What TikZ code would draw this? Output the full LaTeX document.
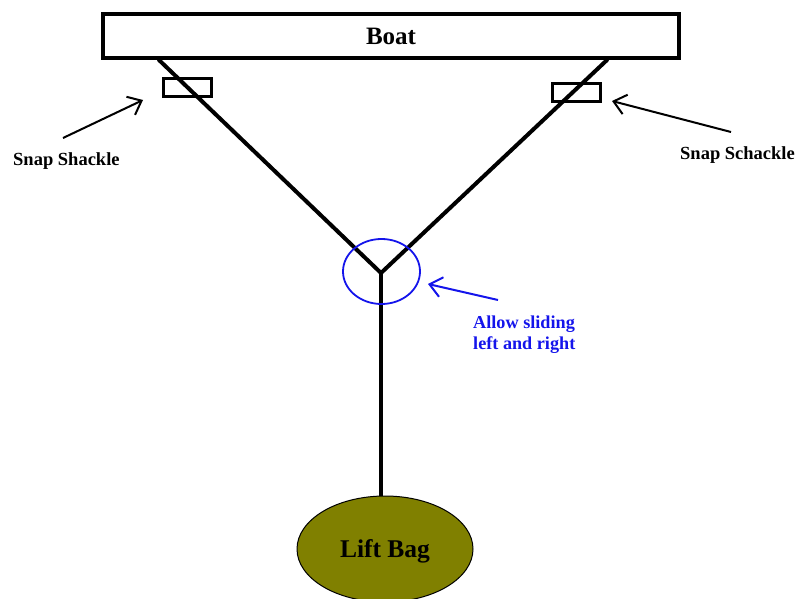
\documentclass[tikz,border=0pt]{standalone}
\usepackage{fontspec}
\setmainfont{Liberation Serif}
\usetikzlibrary{arrows.meta,shapes.geometric}
\definecolor{bagolive}{RGB}{128,128,0}
\definecolor{markblue}{RGB}{20,20,235}
\tikzset{
  rope/.style={line width=4pt, line cap=round},
  shacklebox/.style={draw, line width=3pt, minimum width=48pt, minimum height=18pt, inner sep=0pt},
  pointer/.style={line width=2pt, -{Straight Barb[length=12pt,width=20pt,line width=2pt]}},
  lbl/.style={font=\bfseries\fontsize{18.5}{21}\selectfont, inner sep=0pt}
}
\begin{document}
\begin{tikzpicture}[x=1pt,y=-1pt]
\useasboundingbox (0,0) rectangle (796,599);
% boat
\node[draw, line width=4pt, minimum width=576pt, minimum height=44pt, inner sep=0pt,
      font=\bfseries\fontsize{25}{28}\selectfont] (boat) at (391,36) {Boat};
% rope
\coordinate (pl) at (159,60);
\coordinate (pr) at (607,60);
\coordinate (yj) at (381,273);
\node[ellipse, draw, line width=1pt, fill=bagolive, minimum width=176pt, minimum height=106pt,
      inner sep=0pt, text depth=0pt, font=\bfseries\fontsize{25.5}{28}\selectfont] (bag) at (385,549) {Lift Bag};
\draw[rope] (pl) -- (yj) -- (pr);
\draw[rope, line cap=butt] (yj) -- (yj |- bag.north);
% shackles
\node[shacklebox] (s1) at (187,88) {};
\node[shacklebox] (s2) at (576,93) {};
% labels
\node[lbl, anchor=base west] (t1) at (13,166) {Snap Shackle};
\node[lbl, anchor=base west] (t2) at (680,160) {Snap Schackle};
\coordinate (a1) at (63,138);
\coordinate (a1e) at (143,100);
\coordinate (a2) at (731,132);
\coordinate (a2e) at (612,101);
\draw[pointer] (a1) -- (a1e);
\draw[pointer] (a2) -- (a2e);
% sliding marker
\node[ellipse, draw=markblue, line width=1.8pt, minimum width=77pt, minimum height=65pt, inner sep=0pt] (ring) at (381.5,271.5) {};
\coordinate (a3) at (498,300);
\coordinate (a3e) at (428,284);
\draw[pointer, markblue] (a3) -- (a3e);
\node[anchor=base west, align=left, text=markblue, inner sep=0pt,
      font=\bfseries\fontsize{18.2}{20.5}\selectfont] (t3) at (473,349) {Allow sliding\\left and right};
\end{tikzpicture}
\end{document}
